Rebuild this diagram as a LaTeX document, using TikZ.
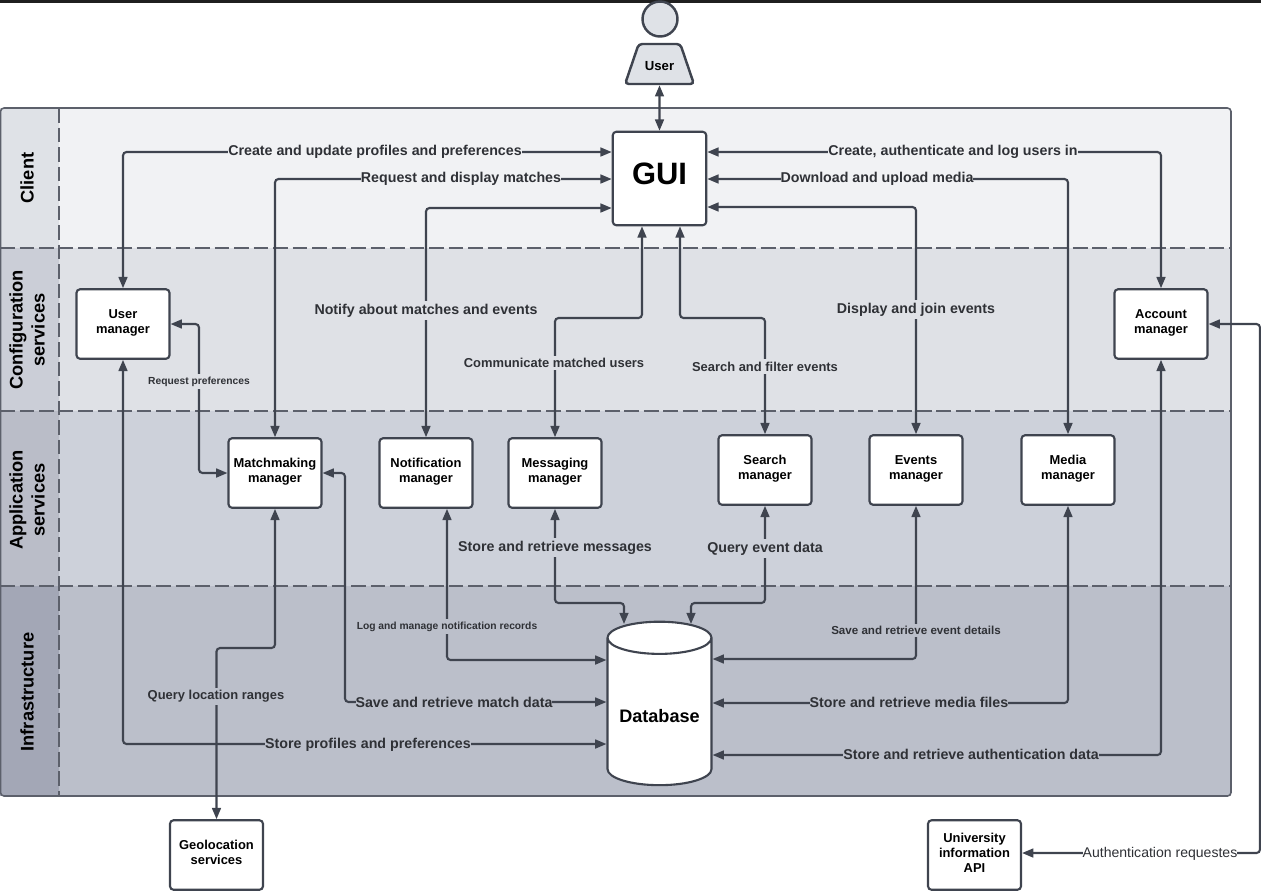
\documentclass[tikz,border=0pt]{standalone}
\usepackage{fontspec}
\setmainfont{Liberation Sans}
\usetikzlibrary{arrows.meta,shapes.geometric}
\definecolor{linecol}{HTML}{3F444F}
\definecolor{bordercol}{HTML}{5C606B}
\definecolor{laneA}{HTML}{F1F2F4}
\definecolor{laneB}{HTML}{DFE1E6}
\definecolor{laneC}{HTML}{CDD1DA}
\definecolor{laneD}{HTML}{BBBFCA}
\definecolor{headA}{HTML}{DFE2E7}
\definecolor{headB}{HTML}{CBCED7}
\definecolor{headC}{HTML}{BABDC8}
\definecolor{headD}{HTML}{A3A7B6}
\definecolor{textcol}{HTML}{2F3136}
\begin{document}
\begin{tikzpicture}[x=0.02cm,y=-0.02cm,>={Triangle[length=6.4pt,width=5pt]},
        main node/.style={rectangle,rounded corners=2pt,fill=white,draw=linecol,line width=1.2pt,
          minimum width=1.86cm,minimum height=1.39cm,align=center,inner sep=1pt,
          font=\fontsize{7.35}{8.5}\selectfont\bfseries},
        link/.style={<->,draw=linecol,line width=1.2pt,rounded corners=2pt,shorten >=0pt,shorten <=0pt},
        lbl/.style={fill=#1,inner xsep=0pt,inner ysep=1.5pt,yshift=-0.9pt,text=textcol,align=center,
          font=\fontsize{8.1}{10}\selectfont\bfseries},
        small lbl/.style={lbl=#1,font=\fontsize{7.36}{10}\selectfont\bfseries},
        tiny lbl/.style={lbl=#1,font=\fontsize{5.85}{10}\selectfont\bfseries},
        lane title/.style={rotate=90,align=center,text=black,
          font=\fontsize{10.4}{12.5}\selectfont\bfseries},
        sep line/.style={dash pattern=on 8.5pt off 2.6pt,draw=bordercol,line width=0.7pt}]

      \useasboundingbox (0,0) rectangle (1261,894);
      \fill[black!88] (0,0) rectangle (1261,3);

      % lanes
      \fill[laneA] (0,108) rectangle (1231,248);
      \fill[laneB] (0,248) rectangle (1231,411);
      \fill[laneC] (0,411) rectangle (1231,586);
      \fill[laneD] (0,586) rectangle (1231,796);
      \fill[headA] (0,108) rectangle (59,248);
      \fill[headB] (0,248) rectangle (59,411);
      \fill[headC] (0,411) rectangle (59,586);
      \fill[headD] (0,586) rectangle (59,796);
      \draw[sep line] (0,248) -- (1231,248);
      \draw[sep line] (0,411) -- (1231,411);
      \draw[sep line] (0,586) -- (1231,586);
      \draw[sep line] (59,108) -- (59,796);
      \draw[draw=bordercol,line width=0.9pt,rounded corners=2pt] (0.5,108) rectangle (1231,796);
      \node[lane title] (clientlane) at (27,178) {Client};
      \node[lane title] (configlane) at (27,330) {Configuration\\services};
      \node[lane title] (applane) at (27,500) {Application\\services};
      \node[lane title] (infralane) at (27,692) {Infrastructure};

      % components
      \node[circle,fill=headA,draw=linecol,line width=1.4pt,minimum size=0.7cm,inner sep=0pt] (head) at (660,19) {};
      \node[trapezium,trapezium stretches=true,trapezium left angle=56,trapezium right angle=56,
        rounded corners=2pt,fill=headA,draw=linecol,line width=1.4pt,minimum width=1.38cm,minimum height=0.8cm,
        inner sep=0pt,font=\fontsize{7.5}{8.8}\selectfont\bfseries] (user) at (659.5,64) {\rule{0pt}{8pt}User};
      \node[main node,minimum width=1.87cm,minimum height=1.87cm,font=\fontsize{17.6}{20}\selectfont\bfseries] (gui) at (659.5,178.5) {GUI\rule[-5pt]{0pt}{0pt}};
      \node[main node] (usermgr) at (123,324) {User\\manager\strut};
      \node[main node] (accountmgr) at (1161,324) {Account\\manager\strut};
      \node[main node] (matchmgr) at (275,473) {Matchmaking\\manager\strut};
      \node[main node] (notifmgr) at (426,473) {Notification\\manager\strut};
      \node[main node] (messmgr) at (555,473) {Messaging\\manager\strut};
      \node[main node] (searchmgr) at (765,470) {Search\\manager\strut};
      \node[main node] (eventsmgr) at (916,470) {Events\\manager\strut};
      \node[main node] (mediamgr) at (1068,470) {Media\\manager\strut};
      \node[main node] (geo) at (216.5,855) {Geolocation\\services\strut};
      \node[main node] (univ) at (974.5,855) {University\\information\\API\strut};
      \node[cylinder,shape border rotate=90,aspect=0.4,fill=white,draw=linecol,line width=1.2pt,
        minimum width=2.08cm,minimum height=3.27cm,inner sep=0pt,
        font=\fontsize{10.3}{14}\selectfont\bfseries] (db) at (659.5,712) {\rule{0pt}{12pt}Database};

      % connectors
      \draw[link] (user) -- (gui);
      \draw[link] (gui.west |- 0,152) -| (usermgr.north);
      \draw[link] (gui.west |- 0,179) -| (matchmgr.north);
      \draw[link] (gui.west |- 0,208) -| (notifmgr.north);
      \draw[link] (gui.south -| 642,0) |- (555,318) -- (messmgr.north);
      \draw[link] (gui.south -| 680,0) |- (765,318) -- (searchmgr.north);
      \draw[link] (gui.east |- 0,207) -| (eventsmgr.north);
      \draw[link] (gui.east |- 0,179) -| (mediamgr.north);
      \draw[link] (gui.east |- 0,152) -| (accountmgr.north);
      \draw[link] (usermgr.east) -| (199,473) -- (matchmgr.west);
      \draw[link] (usermgr.south) |- (db.west |- 0,744);
      \draw[link] (matchmgr.east) -| (345,702) -- (db.west |- 0,702);
      \draw[link] (matchmgr.south) |- (216.5,648) -- (geo.north);
      \draw[link] (notifmgr.south -| 447,0) |- (db.west |- 0,660);
      \draw[link] (messmgr.south) |- (624,603) -- (624,624);
      \draw[link] (searchmgr.south) |- (691,603) -- (691,624);
      \draw[link] (eventsmgr.south) |- (db.east |- 0,659);
      \draw[link] (mediamgr.south) |- (db.east |- 0,703);
      \draw[link] (accountmgr.south) |- (db.east |- 0,755);
      \draw[link] (accountmgr.east) -| (1260,853) -- (univ.east |- 0,853);

      % labels
      \node[lbl=laneA] (l1) at (375,150) {Create and update profiles and preferences};
      \node[lbl=laneA] (l2) at (461,177) {Request and display matches};
      \node[lbl=laneA] (l3) at (953,150) {Create, authenticate and log users in};
      \node[lbl=laneA] (l4) at (877,177) {Download and upload media};
      \node[lbl=laneB] (l5) at (426,309) {Notify about matches and events};
      \node[lbl=laneB] (l6) at (916,308) {Display and join events};
      \node[small lbl=laneB] (l7) at (554,361.5) {Communicate matched users};
      \node[small lbl=laneB] (l8) at (765,365) {Search and filter events};
      \node[tiny lbl=laneB] (l9) at (199,380) {Request preferences};
      \node[lbl=laneC] (l10) at (555,546) {Store and retrieve messages};
      \node[lbl=laneC] (l11) at (765,547) {Query event data};
      \node[tiny lbl=laneD] (l12) at (447,625) {Log and manage notification records};
      \node[tiny lbl=laneD,font=\fontsize{6.6}{10}\selectfont\bfseries] (l13) at (916,629) {Save and retrieve event details};
      \node[small lbl=laneD] (l14) at (216,695) {Query location ranges};
      \node[lbl=laneD] (l15) at (454,701) {Save and retrieve match data};
      \node[lbl=laneD] (l16) at (909,701) {Store and retrieve media files};
      \node[lbl=laneD] (l17) at (368,743) {Store profiles and preferences};
      \node[lbl=laneD] (l18) at (971,753) {Store and retrieve authentication data};
      \node[lbl=white,font=\fontsize{8.0}{10}\selectfont] (l19) at (1160,852) {Authentication requestes};
    \end{tikzpicture}
\end{document}
